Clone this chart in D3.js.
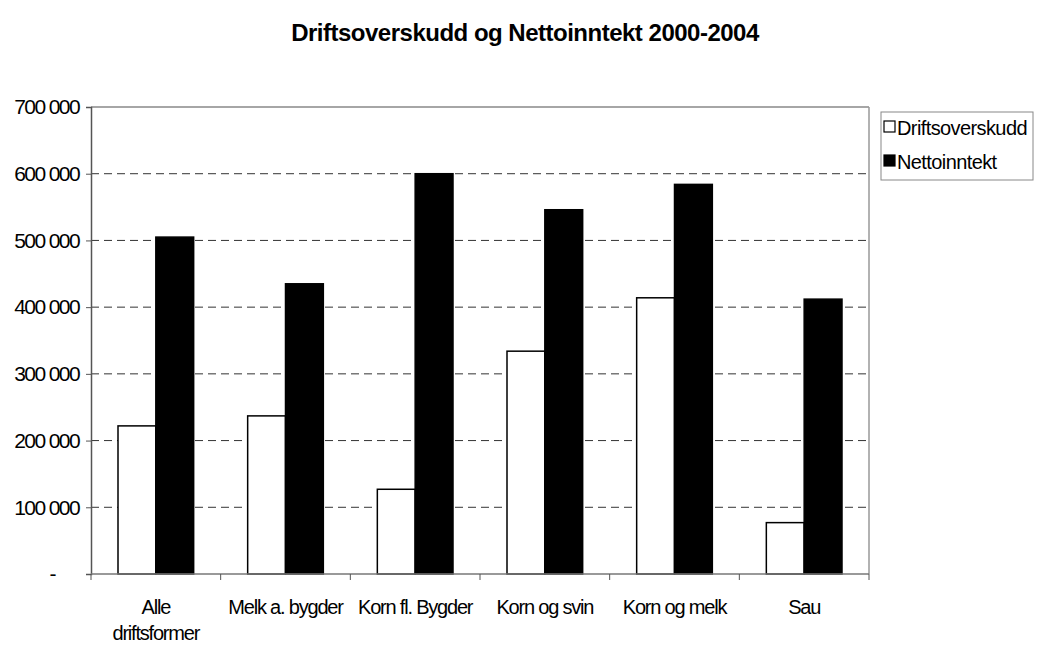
<!DOCTYPE html>
<html>
<head>
<meta charset="utf-8">
<script src="https://cdn.jsdelivr.net/npm/d3@7"></script>
<style>
  body { margin: 0; background: #fff; }
  text { font-family: "Liberation Sans", Arial, sans-serif; fill: #000; }
</style>
</head>
<body>
<div id="chart"></div>
<script>
// data
const categories = [["Alle", "driftsformer"], ["Melk a. bygder"], ["Korn fl. Bygder"], ["Korn og svin"], ["Korn og melk"], ["Sau"]];
const series = ["Driftsoverskudd", "Nettoinntekt"];
const driftsoverskudd = [222000, 237000, 127000, 334000, 414000, 77000];
const nettoinntekt = [505000, 435000, 600000, 546000, 584000, 412000];
const yTicks = [0, 100000, 200000, 300000, 400000, 500000, 600000, 700000];

const W = 1037, H = 645;
const m = {top: 107, right: 168, bottom: 71, left: 91};
const iw = W - m.left - m.right, ih = H - m.top - m.bottom;

const svg = d3.select("#chart").append("svg").attr("width", W).attr("height", H);

svg.append("text").attr("x", 525).attr("y", 41).attr("text-anchor", "middle")
  .style("font-size", "24px").style("font-weight", "bold").style("letter-spacing", "-0.5px")
  .text("Driftsoverskudd og Nettoinntekt 2000-2004");

const g = svg.append("g").attr("transform", `translate(${m.left},${m.top})`);

const x = d3.scaleBand().domain(d3.range(categories.length)).range([0, iw]).padding(0);
const xs = d3.scaleBand().domain(series).range([27, x.bandwidth() - 27]);
const y = d3.scaleLinear().domain([0, 700000]).range([ih, 0]);

// gridlines
g.selectAll(".grid").data(yTicks.filter(d => d > 0 && d < 700000)).join("line")
  .attr("x1", 0).attr("x2", iw).attr("y1", d => y(d)).attr("y2", d => y(d))
  .attr("stroke", "#333").attr("stroke-dasharray", "8,5");

// plot frame top/right
g.append("line").attr("x1", 0).attr("x2", iw).attr("y1", 0).attr("y2", 0).attr("stroke", "#888").attr("stroke-width", 1.5);
g.append("line").attr("x1", iw).attr("x2", iw).attr("y1", 0).attr("y2", ih).attr("stroke", "#999").attr("stroke-width", 1.5);

// bars
const vals = [driftsoverskudd, nettoinntekt];
series.forEach((s, si) => {
  g.selectAll(".bar" + si).data(vals[si]).join("rect")
    .attr("x", (d, i) => x(i) + xs(s))
    .attr("y", d => y(d))
    .attr("width", xs.bandwidth())
    .attr("height", d => ih - y(d))
    .attr("fill", si === 0 ? "#fff" : "#000")
    .attr("stroke", "#000").attr("stroke-width", 1.5);
});

// y axis
const yAxis = g.append("g").call(d3.axisLeft(y).tickValues(yTicks).tickSize(5).tickPadding(7)
  .tickFormat(d => d === 0 ? "-" : d3.format(",")(d).replace(/,/g, " ")));
yAxis.select(".domain").attr("stroke", "#555").attr("stroke-width", 1.5);
yAxis.selectAll(".tick line").attr("stroke", "#555");
yAxis.selectAll("text").style("font-size", "21px").style("letter-spacing", "-1.6px").attr("fill", "#000");
yAxis.selectAll(".tick").filter(d => d === 0).select("text").attr("x", -36);

// x axis
const xb = g.append("g").attr("transform", `translate(0,${ih})`);
xb.append("line").attr("x1", 0).attr("x2", iw).attr("stroke", "#777").attr("stroke-width", 1.5);
xb.selectAll(".xt").data(d3.range(categories.length + 1)).join("line")
  .attr("x1", d => d * x.step()).attr("x2", d => d * x.step()).attr("y1", 0).attr("y2", 6)
  .attr("stroke", "#555");
xb.selectAll(".xl").data(categories).join("text")
  .attr("x", (d, i) => x(i) + x.bandwidth() / 2).attr("y", 40)
  .attr("text-anchor", "middle").style("font-size", "20px").style("letter-spacing", "-1.2px")
  .each(function(d) {
    d3.select(this).selectAll("tspan").data(d).join("tspan")
      .attr("x", d3.select(this).attr("x")).attr("dy", (t, k) => k === 0 ? 0 : 26).text(t => t);
  });

// legend
const lg = svg.append("g").attr("transform", "translate(881,112)");
lg.append("rect").attr("width", 152).attr("height", 68).attr("fill", "#fff").attr("stroke", "#888");
series.forEach((s, i) => {
  lg.append("rect").attr("x", 3).attr("y", 9 + i * 34).attr("width", 11).attr("height", 11)
    .attr("fill", i === 0 ? "#fff" : "#000").attr("stroke", "#000").attr("stroke-width", 1.2);
  lg.append("text").attr("x", 16).attr("y", 23 + i * 34).style("font-size", "20px")
    .style("letter-spacing", "-0.6px").text(s);
});
</script>
</body>
</html>
